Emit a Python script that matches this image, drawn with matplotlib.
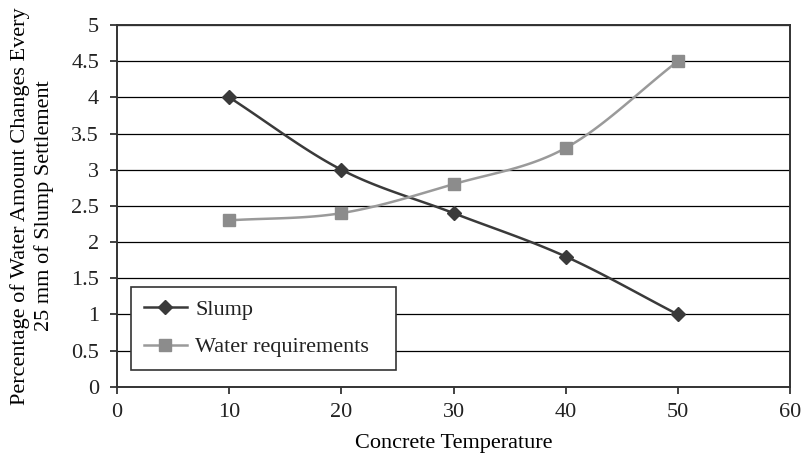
import numpy as np
import matplotlib.pyplot as plt

temps = [10, 20, 30, 40, 50]
slump = [4.0, 3.0, 2.4, 1.8, 1.0]
water = [2.3, 2.4, 2.8, 3.3, 4.5]


def smooth(x, y, n=30):
    # catmull-rom path through the points, like Excel's smoothed lines
    x = np.asarray(x, float)
    y = np.asarray(y, float)
    px = np.concatenate([[2 * x[0] - x[1]], x, [2 * x[-1] - x[-2]]])
    py = np.concatenate([[2 * y[0] - y[1]], y, [2 * y[-1] - y[-2]]])
    xs, ys = [], []
    t = np.linspace(0, 1, n)
    for i in range(1, len(px) - 2):
        for p, out in ((px, xs), (py, ys)):
            p0, p1, p2, p3 = p[i - 1], p[i], p[i + 1], p[i + 2]
            out.extend(0.5 * (2 * p1 + (-p0 + p2) * t
                              + (2 * p0 - 5 * p1 + 4 * p2 - p3) * t ** 2
                              + (-p0 + 3 * p1 - 3 * p2 + p3) * t ** 3))
    return xs, ys


plt.rcParams['font.family'] = ['Liberation Serif', 'DejaVu Serif']
plt.rcParams['font.size'] = 16
plt.rcParams['text.color'] = '#222222'

fig = plt.figure(figsize=(8.02, 4.54), dpi=100)
ax = fig.add_axes([0.146, 0.148, 0.839, 0.797])

sx, sy = smooth(temps, slump)
wx, wy = smooth(temps, water)
ax.plot(sx, sy, color='#3a3a3a', lw=1.8, zorder=3)
ax.plot(temps, slump, ls='none', marker='D', ms=7, color='#3a3a3a', zorder=4)
ax.plot(wx, wy, color='#9a9a9a', lw=1.8, zorder=3)
ax.plot(temps, water, ls='none', marker='s', ms=8.5, color='#8c8c8c', zorder=4)

# legend handles
ax.plot([], [], color='#3a3a3a', lw=1.8, marker='D', ms=7, label='Slump')
ax.plot([], [], color='#9a9a9a', lw=1.8, marker='s', ms=8.5,
        markerfacecolor='#8c8c8c', markeredgecolor='#8c8c8c', label='Water requirements')

ax.set_xlim(0, 60)
ax.set_ylim(0, 5)
ax.set_xticks(range(0, 61, 10))
ax.set_yticks(np.arange(0, 5.01, 0.5))
ax.set_yticklabels(['0', '0.5', '1', '1.5', '2', '2.5', '3', '3.5', '4', '4.5', '5'])
ax.yaxis.grid(True, color='black', lw=0.9)
ax.set_axisbelow(True)
ax.tick_params(direction='out', length=5, width=1.2, colors='#222222', labelsize=16)
ax.tick_params(axis='y', pad=8)
ax.tick_params(axis='x', pad=7)
for s in ax.spines.values():
    s.set_color('#333333')
    s.set_linewidth(1.4)

ax.set_xlabel('Concrete Temperature', fontsize=16, labelpad=8)
ax.set_ylabel('Percentage of Water Amount Changes Every\n25 mm of Slump Settlement',
              fontsize=16, labelpad=12, linespacing=1.3)

leg = ax.legend(loc='lower left', bbox_to_anchor=(0.021, 0.047, 0.394, 0.226), mode='expand',
                borderaxespad=0, fancybox=False, edgecolor='#333333', framealpha=1, fontsize=16,
                borderpad=0.56, labelspacing=0.75, handlelength=1.95, handletextpad=0.36)
leg.get_frame().set_linewidth(1.2)

fig.savefig('out.png', dpi=100)
